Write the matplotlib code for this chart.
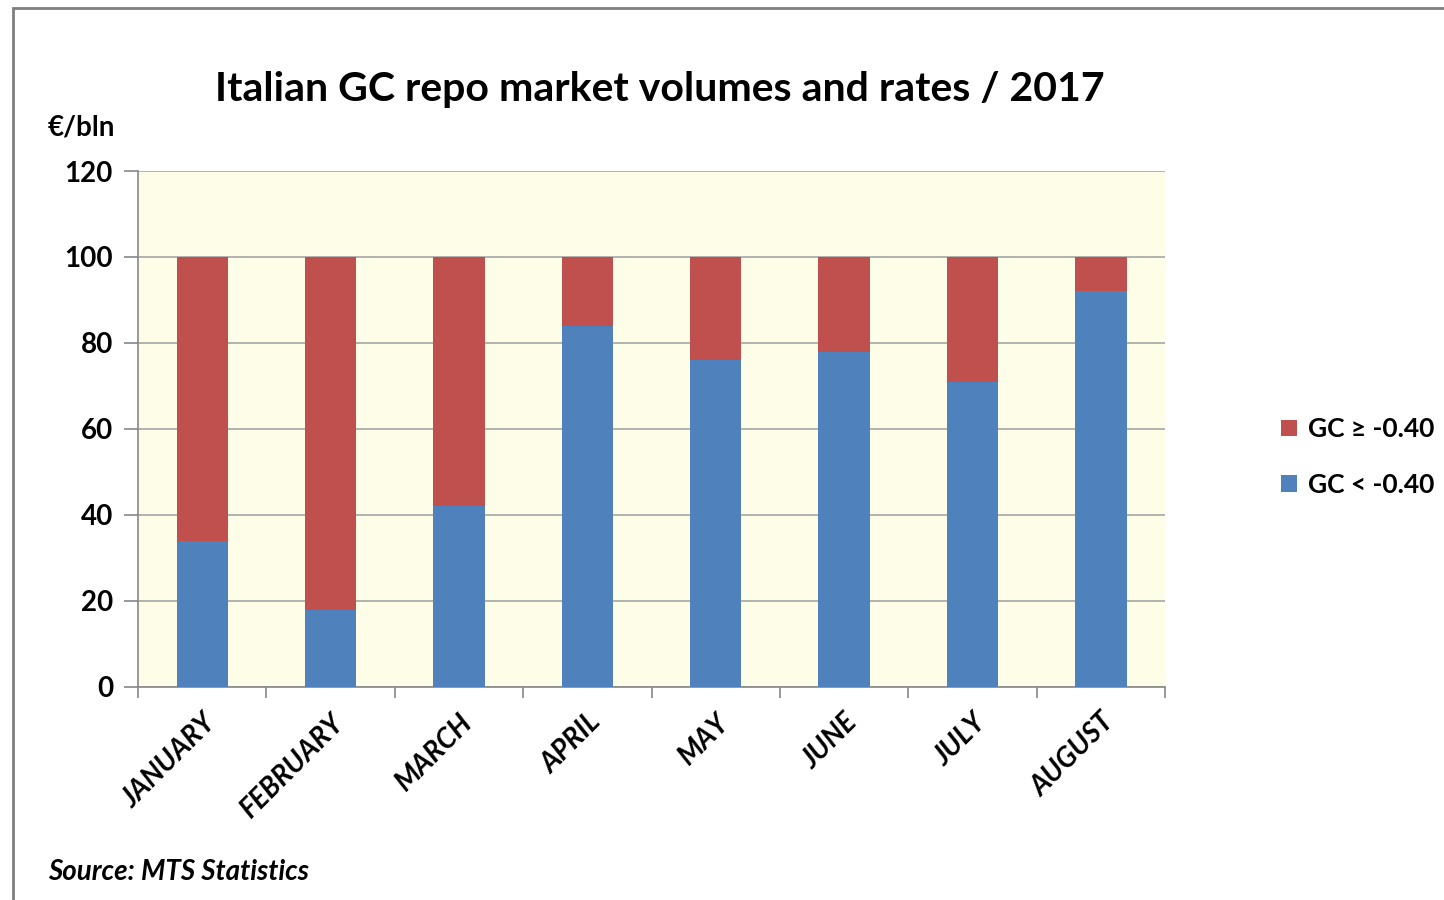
import matplotlib
matplotlib.use("Agg")
import matplotlib.pyplot as plt
from matplotlib.patches import Rectangle
import numpy as np

plt.rcParams["font.family"] = ["Lato", "DejaVu Sans"]

months = ["JANUARY", "FEBRUARY", "MARCH", "APRIL", "MAY", "JUNE", "JULY", "AUGUST"]
gc_below = [34, 18, 42, 84, 76, 78, 71, 92]      # GC < -0.40
gc_above = [66, 82, 58, 16, 24, 22, 29, 8]       # GC >= -0.40
yticks = [0, 20, 40, 60, 80, 100, 120]

RED = "#C0504D"
BLUE = "#4F81BD"

fig = plt.figure(figsize=(14.44, 9.0), dpi=100)
ax = fig.add_axes([0.0956, 0.2367, 0.7112, 0.5733])
ax.set_facecolor("#FEFDE8")

x = np.arange(len(months))
ax.bar(x, gc_below, width=0.4, color=BLUE, label="GC < -0.40", zorder=3)
ax.bar(x, gc_above, width=0.4, bottom=gc_below, color=RED, label="GC \u2265 -0.40", zorder=3)

ax.set_xlim(-0.5, len(months) - 0.5)
ax.set_ylim(0, 120)
ax.set_yticks(yticks)
ax.set_yticklabels([str(v) for v in yticks], fontsize=20, fontweight="bold")
ax.yaxis.grid(True, color="#A6A6A6", linewidth=1.2, zorder=0)
ax.tick_params(axis="y", length=10, width=1.2, color="#888888", pad=8)

ax.set_xticks(x)
ax.set_xticklabels(months, rotation=45, ha="right", rotation_mode="anchor",
                   fontsize=20, fontweight="bold", fontstyle="italic")
ax.tick_params(axis="x", length=0, pad=16)
ax.set_xticks(np.arange(-0.5, len(months)), minor=True)
ax.tick_params(axis="x", which="minor", length=8, width=1.2, color="#888888")

for side in ("top", "right"):
    ax.spines[side].set_visible(False)
for side in ("left", "bottom"):
    ax.spines[side].set_color("#888888")
    ax.spines[side].set_linewidth(1.2)

handles, labels = ax.get_legend_handles_labels()
fig.legend(handles[::-1], labels[::-1], loc="center left", bbox_to_anchor=(0.871, 0.492),
           frameon=False, prop={"weight": "bold", "size": 19},
           handlelength=0.6, handleheight=0.6, handletextpad=0.4, labelspacing=1.2)

fig.text(0.457, 0.9, "Italian GC repo market volumes and rates / 2017",
         ha="center", va="center", fontsize=29.5, fontweight="bold")
fig.text(0.033, 0.858, "\u20ac/bln", ha="left", va="center", fontsize=20, fontweight="bold")
fig.text(0.033, 0.031, "Source: MTS Statistics", ha="left", va="center",
         fontsize=20, fontweight="bold", fontstyle="italic")

# outer frame (cropped at right and bottom)
fig.patches.append(Rectangle((13 / 1444, -0.1), 1.2, (900 - 8) / 900 + 0.1,
                             transform=fig.transFigure, fill=False,
                             edgecolor="#7F7F7F", linewidth=2.0))

fig.savefig("out.png", dpi=100)
